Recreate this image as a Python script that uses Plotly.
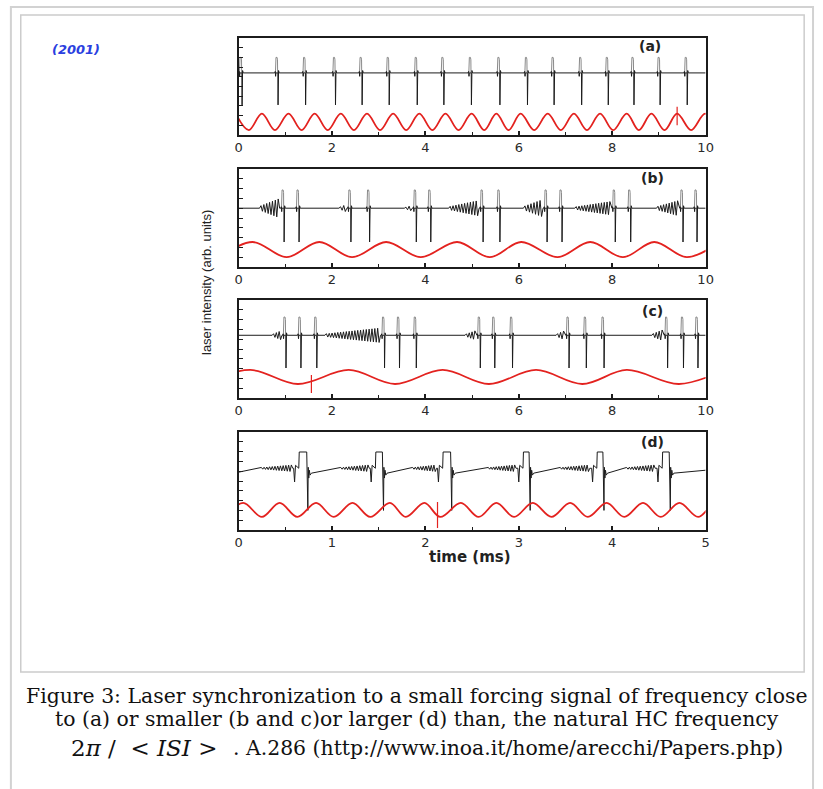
import plotly.graph_objects as go

W, H = 823, 789

# ---------------- data ----------------
# panel (a): time axis 0-10 ms
A_SPIKE_T = [0.05, 0.82, 1.41, 2.05, 2.62, 3.20, 3.80, 4.37, 4.96, 5.57, 6.16, 6.73, 7.32, 7.89, 8.44, 9.00, 9.58]
A_BASE, A_TOP, A_BOTTOM = 6.4, 8.0, 3.1
A_BURST_START = []
A_BURST_END = []
A_BURST_AMP = []
A_RED_PEAK_T = [-0.06, 0.50, 1.07, 1.63, 2.19, 2.75, 3.31, 3.87, 4.43, 4.99, 5.52, 6.04, 6.62, 7.18, 7.74, 8.31, 8.84, 9.39, 9.99]
A_RED_TROUGH_T = [0.22, 0.78, 1.35, 1.91, 2.47, 3.03, 3.59, 4.15, 4.71, 5.26, 5.78, 6.33, 6.90, 7.46, 8.02, 8.57, 9.12, 9.69, 10.27]
A_RED_HI, A_RED_LO = 2.2, 0.5
A_RED_MARK_T, A_RED_MARK_LO, A_RED_MARK_HI = [9.39], [1.0], [2.9]

# panel (b): time axis 0-10 ms
B_SPIKE_T = [0.95, 1.27, 2.38, 2.78, 3.78, 4.09, 5.21, 5.57, 6.58, 6.90, 8.04, 8.37, 9.49, 9.79]
B_BASE, B_TOP, B_BOTTOM = 6.0, 7.86, 2.55
B_BURST_START = [0.45, 2.15, 3.55, 4.50, 6.10, 7.20, 8.95]
B_BURST_END = [0.88, 2.32, 3.72, 5.15, 6.52, 7.98, 9.43]
B_BURST_AMP = [1.0, 0.4, 0.3, 0.8, 0.9, 0.7, 0.8]
B_RED_PEAK_T = [0.30, 1.73, 3.16, 4.68, 6.05, 7.53, 8.90, 10.30]
B_RED_TROUGH_T = [-0.40, 1.03, 2.43, 3.90, 5.38, 6.83, 8.23, 9.60]
B_RED_HI, B_RED_LO = 2.55, 1.0
B_RED_MARK_T, B_RED_MARK_LO, B_RED_MARK_HI = [], [], []

# panel (c): time axis 0-10 ms
C_SPIKE_T = [0.99, 1.31, 1.65, 3.10, 3.42, 3.78, 5.15, 5.46, 5.84, 7.05, 7.42, 7.80, 9.16, 9.50, 9.81]
C_BASE, C_TOP, C_BOTTOM = 6.4, 8.26, 3.06
C_BURST_START = [0.72, 1.85, 4.85, 6.80, 8.85]
C_BURST_END = [0.93, 3.04, 5.09, 6.99, 9.10]
C_BURST_AMP = [0.5, 0.75, 0.5, 0.5, 0.6]
C_RED_PEAK_T = [0.25, 2.36, 4.37, 6.37, 8.31, 10.40]
C_RED_TROUGH_T = [-0.80, 1.27, 3.35, 5.36, 7.36, 9.43]
C_RED_HI, C_RED_LO = 2.86, 1.43
C_RED_MARK_T, C_RED_MARK_LO, C_RED_MARK_HI = [1.56], [0.5], [2.35]

# panel (d): time axis 0-5 ms
D_PULSE_START = [0.65, 1.47, 2.19, 3.05, 3.84, 4.54]
D_PULSE_END = [0.73, 1.54, 2.27, 3.11, 3.90, 4.61]
D_OSC_START = [0.23, 1.08, 1.85, 2.66, 3.43, 4.14]
D_OSC_END = [0.58, 1.40, 2.12, 2.97, 3.76, 4.46]
D_BASE_LO, D_BASE_HI, D_TOP, D_DROP, D_NOTCH, D_OSC_AMP = 5.8, 6.3, 7.96, 2.0, 4.9, 0.35
D_START_LEVEL, D_END_LEVEL = 5.9, 6.1
D_RED_PEAK_T = [0.05, 0.44, 0.83, 1.22, 1.62, 1.99, 2.38, 2.76, 3.15, 3.55, 3.94, 4.33, 4.72, 5.11]
D_RED_TROUGH_T = [-0.15, 0.25, 0.63, 1.02, 1.41, 1.79, 2.16, 2.57, 2.95, 3.35, 3.74, 4.13, 4.52, 4.92, 5.31]
D_RED_HI, D_RED_LO = 2.76, 1.33
D_RED_MARK_T, D_RED_MARK_LO, D_RED_MARK_HI = [2.13], [0.2], [2.86]

X_TICKS_10 = [0, 2, 4, 6, 8, 10]
X_TICKS_5 = [0, 1, 2, 3, 4, 5]
PANEL_LABELS = ["(a)", "(b)", "(c)", "(d)"]
Y_TITLE = "laser intensity (arb. units)"
X_TITLE = "time (ms)"
YEAR_TEXT = "(2001)"
CAPTION_1 = "Figure 3: Laser synchronization to a small forcing signal of frequency close"
CAPTION_2 = "to (a) or smaller (b and c)or larger (d) than, the natural HC frequency"
CAPTION_MATH = "2<i>π</i>&#160;/&#160;&#160;&lt;&#160;<i>ISI</i>&#160;&gt;"
CAPTION_3 = ". A.286 (http://www.inoa.it/home/arecchi/Papers.php)"

# ---------------- styles / layout constants ----------------
RED = "#e3221f"
BLACK = "#1c1c1c"
GRAY = "#8a8a8a"
PANEL_X = (238, 712)
PANEL_Y = [(38, 135), (169, 267), (300, 398), (432, 530)]


def px(x):
    return x / W


def py(y):
    return 1 - y / H


def burst_points(s, e, base, amp, step):
    pts = [(s, base)]
    n = max(2, int((e - s) / step))
    for k in range(1, n):
        x = s + k * (e - s) / n
        a = amp * (0.2 + 0.8 * k / n)
        pts.append((x, base + (a if k % 2 else -a)))
    pts.append((e, base))
    return pts


def spike_black(t, base, bottom):
    return [(t - 0.045, base), (t - 0.034, base + 0.15), (t - 0.026, base - 0.35),
            (t - 0.02, base), (t + 0.022, base), (t + 0.026, bottom),
            (t + 0.031, base - 0.5), (t + 0.037, base + 0.25), (t + 0.05, base)]


def spike_gray(t, base, top):
    return [(t - 0.03, base), (t - 0.027, top - 0.25), (t - 0.018, top),
            (t + 0.005, top), (t + 0.014, top - 0.25), (t + 0.017, base)]


def build_spiking(spikes, base, top, bottom, bstart, bend, bamp, xmax):
    pts = [(0.0, base), (xmax, base)]
    for s, e, a in zip(bstart, bend, bamp):
        pts += burst_points(s, e, base, a, 0.03)
    for t in spikes:
        pts += spike_black(t, base, bottom)
    pts.sort(key=lambda p: p[0])
    gx, gy = [], []
    for t in spikes:
        seg = spike_gray(t, base, top)
        gx += [p[0] for p in seg] + [None]
        gy += [p[1] for p in seg] + [None]
    return [p[0] for p in pts], [p[1] for p in pts], gx, gy


def build_d():
    pts = [(0.0, D_START_LEVEL), (5.0, D_END_LEVEL)]
    for os_, oe, ps, pe in zip(D_OSC_START, D_OSC_END, D_PULSE_START, D_PULSE_END):
        pts += burst_points(os_, oe, D_BASE_HI, D_OSC_AMP, 0.014)
        pts += [(ps - 0.06, D_BASE_HI), (ps - 0.05, D_NOTCH), (ps - 0.04, D_BASE_HI + 0.3),
                (ps - 0.005, D_BASE_HI), (ps, D_TOP), (pe, D_TOP), (pe + 0.004, D_BASE_HI),
                (pe + 0.012, D_DROP), (pe + 0.016, D_BASE_LO + 0.6), (pe + 0.022, D_BASE_LO - 0.5),
                (pe + 0.028, D_BASE_LO + 0.3), (pe + 0.036, D_BASE_LO - 0.2), (pe + 0.05, D_BASE_LO)]
    pts.sort(key=lambda p: p[0])
    return [p[0] for p in pts], [p[1] for p in pts]


def red_points(peaks, troughs, hi, lo):
    pts = sorted([(t, hi) for t in peaks] + [(t, lo) for t in troughs])
    return [p[0] for p in pts], [p[1] for p in pts]


fig = go.Figure()

panels = [
    (A_SPIKE_T, A_BASE, A_TOP, A_BOTTOM, A_BURST_START, A_BURST_END, A_BURST_AMP,
     A_RED_PEAK_T, A_RED_TROUGH_T, A_RED_HI, A_RED_LO, A_RED_MARK_T, A_RED_MARK_LO, A_RED_MARK_HI),
    (B_SPIKE_T, B_BASE, B_TOP, B_BOTTOM, B_BURST_START, B_BURST_END, B_BURST_AMP,
     B_RED_PEAK_T, B_RED_TROUGH_T, B_RED_HI, B_RED_LO, B_RED_MARK_T, B_RED_MARK_LO, B_RED_MARK_HI),
    (C_SPIKE_T, C_BASE, C_TOP, C_BOTTOM, C_BURST_START, C_BURST_END, C_BURST_AMP,
     C_RED_PEAK_T, C_RED_TROUGH_T, C_RED_HI, C_RED_LO, C_RED_MARK_T, C_RED_MARK_LO, C_RED_MARK_HI),
]

common = dict(mode="lines", showlegend=False, hoverinfo="skip")

for i, p in enumerate(panels):
    (sp, base, top, bottom, bs, be, ba, rpk, rtr, rhi, rlo, mt, mlo, mhi) = p
    xa, ya = ("x", "y") if i == 0 else (f"x{i+1}", f"y{i+1}")
    bx, by, gx, gy = build_spiking(sp, base, top, bottom, bs, be, ba, 10.0)
    fig.add_trace(go.Scatter(x=gx, y=gy, line=dict(color=GRAY, width=1), xaxis=xa, yaxis=ya, **common))
    fig.add_trace(go.Scatter(x=bx, y=by, line=dict(color=BLACK, width=1), xaxis=xa, yaxis=ya, **common))
    rx, ry = red_points(rpk, rtr, rhi, rlo)
    fig.add_trace(go.Scatter(x=rx, y=ry, line=dict(color=RED, width=1.8, shape="spline", smoothing=1.0),
                             xaxis=xa, yaxis=ya, **common))
    for t, lo, hi in zip(mt, mlo, mhi):
        fig.add_trace(go.Scatter(x=[t, t], y=[lo, hi], line=dict(color=RED, width=1.2),
                                 xaxis=xa, yaxis=ya, **common))

# panel (d)
dx, dy = build_d()
fig.add_trace(go.Scatter(x=dx, y=dy, line=dict(color=BLACK, width=1), xaxis="x4", yaxis="y4", **common))
rx, ry = red_points(D_RED_PEAK_T, D_RED_TROUGH_T, D_RED_HI, D_RED_LO)
fig.add_trace(go.Scatter(x=rx, y=ry, line=dict(color=RED, width=1.8, shape="spline", smoothing=1.0),
                         xaxis="x4", yaxis="y4", **common))
for t, lo, hi in zip(D_RED_MARK_T, D_RED_MARK_LO, D_RED_MARK_HI):
    fig.add_trace(go.Scatter(x=[t, t], y=[lo, hi], line=dict(color=RED, width=1.2),
                             xaxis="x4", yaxis="y4", **common))

layout = dict(
    width=W, height=H, autosize=False,
    margin=dict(l=0, r=0, t=0, b=0, pad=0),
    paper_bgcolor="white", plot_bgcolor="white",
    showlegend=False,
)

tickfont = dict(family="DejaVu Sans, Arial", size=13, color="#2a2a2a")
for i, (top_px, bot_px) in enumerate(PANEL_Y):
    xk = "xaxis" if i == 0 else f"xaxis{i+1}"
    yk = "yaxis" if i == 0 else f"yaxis{i+1}"
    ya = "y" if i == 0 else f"y{i+1}"
    xa = "x" if i == 0 else f"x{i+1}"
    is_d = (i == 3)
    layout[xk] = dict(
        domain=[px(PANEL_X[0]), px(PANEL_X[1])], anchor=ya,
        range=[0, 5] if is_d else [0, 10],
        tickmode="array", tickvals=X_TICKS_5 if is_d else X_TICKS_10,
        ticks="inside", ticklen=4, tickwidth=1.5, tickcolor=BLACK,
        minor=dict(ticks="inside", ticklen=3, tickwidth=1.2, tickcolor=BLACK, dtick=0.5 if is_d else 1),
        showline=True, mirror=True, linecolor=BLACK, linewidth=1.6,
        showgrid=False, zeroline=False, tickfont=tickfont, fixedrange=True,
    )
    layout[yk] = dict(
        domain=[py(bot_px), py(top_px)], anchor=xa,
        range=[0, 10], dtick=1, tick0=0,
        ticks="inside", ticklen=5, tickwidth=1.2, tickcolor=BLACK,
        showticklabels=False,
        showline=True, mirror=True, linecolor=BLACK, linewidth=1.6,
        showgrid=False, zeroline=False, fixedrange=True,
    )

annotations = []
label_pos = [(656, 46), (658, 178), (658, 311), (658, 442)]
for txt, (lx, ly) in zip(PANEL_LABELS, label_pos):
    annotations.append(dict(text="<b>" + txt + "</b>", x=px(lx), y=py(ly), xref="paper", yref="paper",
                            showarrow=False, xanchor="center", yanchor="middle",
                            font=dict(family="DejaVu Sans, Arial", size=14, color="#222222")))
annotations.append(dict(text=Y_TITLE, x=px(205), y=py(283), xref="paper", yref="paper",
                        showarrow=False, textangle=-90, xanchor="center", yanchor="middle",
                        font=dict(family="Liberation Sans, Arial", size=13, color="#222222")))
annotations.append(dict(text="<b>" + X_TITLE + "</b>", x=px(473), y=py(557), xref="paper", yref="paper",
                        showarrow=False, xanchor="center", yanchor="middle",
                        font=dict(family="DejaVu Sans, Arial", size=15, color="#222222")))
annotations.append(dict(text="<b><i>" + YEAR_TEXT + "</i></b>", x=px(47), y=py(50), xref="paper", yref="paper",
                        showarrow=False, xanchor="left", yanchor="middle",
                        font=dict(family="DejaVu Sans, Arial", size=13, color="#2b3fe0")))
cap_font = dict(family="DejaVu Serif, Liberation Serif, serif", size=20.4, color="#111111")
annotations.append(dict(text=CAPTION_1, x=px(419), y=py(696), xref="paper", yref="paper",
                        showarrow=False, xanchor="center", yanchor="middle", font=cap_font))
annotations.append(dict(text=CAPTION_2, x=px(419), y=py(719), xref="paper", yref="paper",
                        showarrow=False, xanchor="center", yanchor="middle", font=cap_font))
annotations.append(dict(text=CAPTION_MATH, x=px(66), y=py(748), xref="paper", yref="paper",
                        showarrow=False, xanchor="left", yanchor="middle",
                        font=dict(family="DejaVu Serif, Liberation Serif, serif", size=23, color="#111111")))
annotations.append(dict(text=CAPTION_3, x=px(230), y=py(748), xref="paper", yref="paper",
                        showarrow=False, xanchor="left", yanchor="middle", font=cap_font))
layout["annotations"] = annotations

layout["shapes"] = [
    dict(type="rect", xref="paper", yref="paper", x0=px(7), x1=px(821), y0=-0.05, y1=py(7),
         line=dict(color="#d2d2d2", width=2), fillcolor="rgba(0,0,0,0)", layer="below"),
    dict(type="rect", xref="paper", yref="paper", x0=px(17), x1=px(812), y0=py(672), y1=py(15),
         line=dict(color="#cccccc", width=1.5), fillcolor="rgba(0,0,0,0)", layer="below"),
]

fig.update_layout(**layout)
fig.write_html("out.html", config={"displayModeBar": False},
               post_script="document.body.style.margin='0px';document.body.style.overflow='hidden';")
